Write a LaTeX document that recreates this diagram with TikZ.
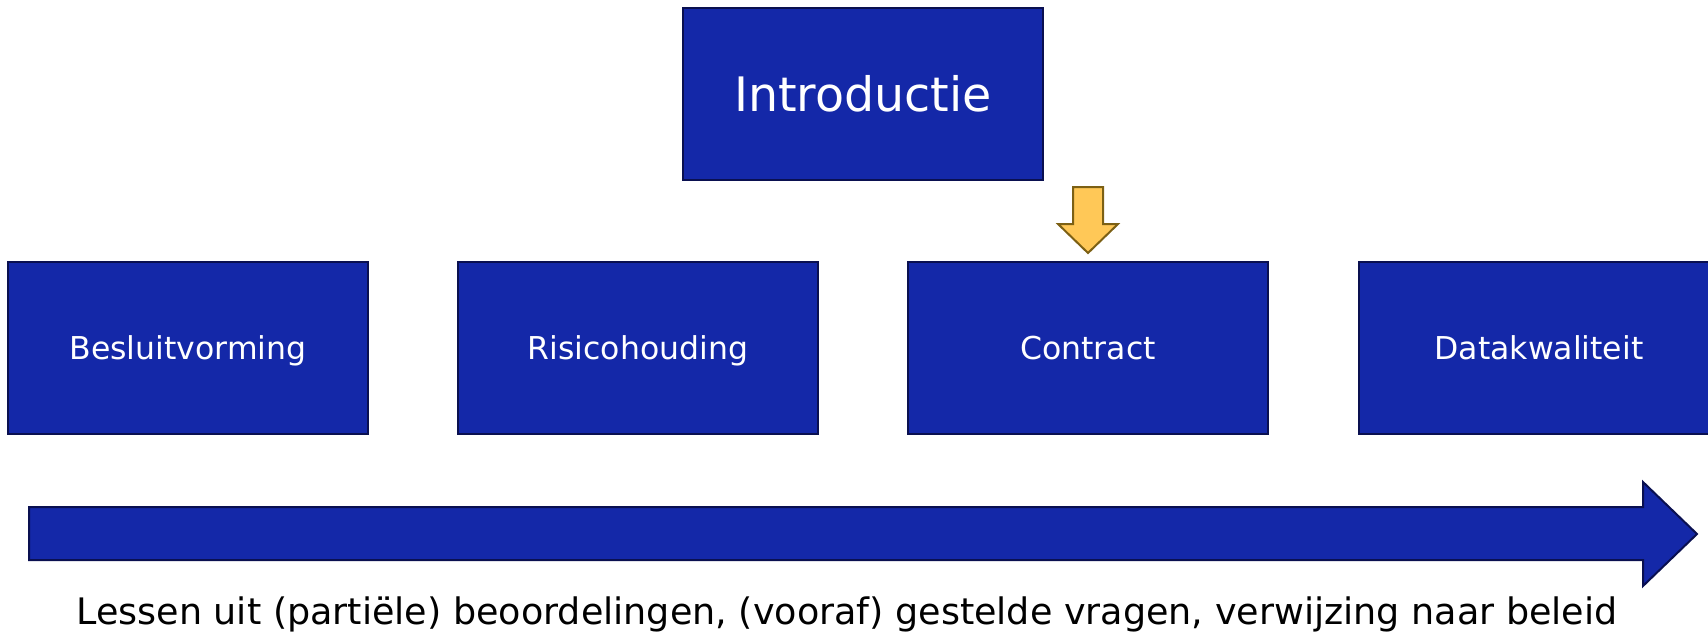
\documentclass[tikz,border=0pt]{standalone}
\usepackage{fontspec}
\setmainfont{DejaVu Sans}
\definecolor{boxblue}{RGB}{20,40,168}
\definecolor{boxedge}{RGB}{10,16,80}
\definecolor{ayellow}{RGB}{255,200,87}
\definecolor{aedge}{RGB}{124,96,20}
\tikzset{
  bluebox/.style={draw=boxedge, fill=boxblue, line width=2pt, text=white,
    minimum width=360pt, minimum height=172pt, inner sep=0pt,
    text height=23pt, text depth=0pt,
    font=\fontsize{31.5}{36}\selectfont},
  bigarrow/.style={draw=boxedge, fill=boxblue, line width=2pt, line join=miter},
  smallarrow/.style={draw=aedge, fill=ayellow, line width=2pt, line join=miter}
}
\begin{document}
\begin{tikzpicture}[x=1pt,y=-1pt]
\useasboundingbox (0,0) rectangle (1708,632);
\node[bluebox, text height=34.7pt, font=\fontsize{47.5}{54}\selectfont] (intro) at (863,94) {Introductie};
\node[bluebox] (b1) at (188,348) {Besluitvorming};
\node[bluebox] (b2) at (638,348) {Risicohouding};
\node[bluebox] (b3) at (1088,348) {Contract};
\node[bluebox] (b4) at (1539,348) {Datakwaliteit};
% yellow down arrow
\draw[smallarrow] (1073,187) -- (1103,187) -- (1103,224) -- (1118,224) -- (1088,253)
  -- (1058,224) -- (1073,224) -- cycle;
% big arrow
\draw[bigarrow] (29,507) -- (1643,507) -- (1643,482) -- (1697,534) -- (1643,586)
  -- (1643,560) -- (29,560) -- cycle;
\node[anchor=base, inner sep=0pt, font=\fontsize{36.5}{44}\selectfont] (lbl) at (847,624)
  {Lessen uit (partiële) beoordelingen, (vooraf) gestelde vragen, verwijzing naar beleid};
\end{tikzpicture}
\end{document}
